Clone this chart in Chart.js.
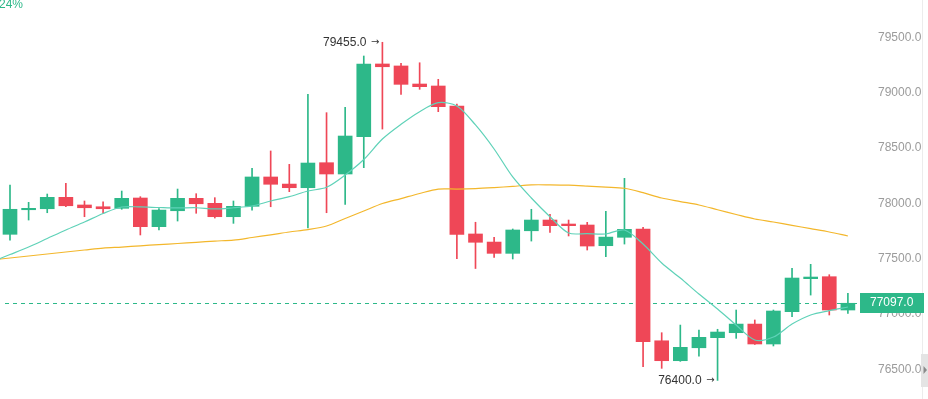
<!DOCTYPE html>
<html>
<head>
<meta charset="utf-8">
<script src="https://cdn.jsdelivr.net/npm/chart.js@4/dist/chart.umd.min.js"></script>
<style>
  html, body { margin: 0; padding: 0; background: #fff; }
  #wrap { width: 928px; height: 399px; }
</style>
</head>
<body>
<div id="wrap"><canvas id="kline" width="928" height="399"></canvas></div>
<script>
// candle data, one entry per bar (left to right)
const opens  = [77720, 77942, 77951, 78054, 77985, 77969, 77955, 78048, 77789, 77933,
                78045, 78000, 77879, 77973, 78238, 78174, 78141, 78367, 78265, 78602,
                79259, 79241, 79078, 79060, 78879, 77723, 77650, 77548, 77752, 77849,
                77813, 77804, 77617, 77693, 77768, 76758, 76578, 76695, 76786, 76831,
                76909, 76729, 77021, 77319, 77337, 77036];
const highs  = [78165, 78009, 78084, 78181, 78021, 78014, 78111, 78060, 77953, 78129,
                78087, 78051, 78021, 78316, 78473, 78352, 78985, 78819, 78867, 79331,
                79455, 79265, 79270, 79120, 78897, 77829, 77693, 77768, 77946, 77901,
                77849, 77828, 77928, 78226, 77783, 76831, 76900, 76855, 76862, 77036,
                76946, 77036, 77413, 77449, 77355, 77187];
const lows   = [77668, 77849, 77915, 77969, 77879, 77910, 77946, 77714, 77759, 77840,
                77910, 77867, 77819, 77939, 77969, 78105, 77777, 77915, 77991, 78322,
                78671, 78985, 79030, 78828, 77499, 77411, 77512, 77497, 77659, 77738,
                77705, 77578, 77518, 77632, 76524, 76509, 76572, 76620, 76400, 76780,
                76725, 76711, 76975, 77171, 76991, 77006];
const closes = [77946, 77955, 78054, 77978, 77960, 77951, 78045, 77789, 77939, 78045,
                77996, 77879, 77973, 78238, 78172, 78141, 78364, 78265, 78608, 79259,
                79234, 79075, 79054, 78873, 77720, 77648, 77548, 77759, 77849, 77798,
                77798, 77614, 77695, 77765, 76749, 76578, 76699, 76789, 76837, 76909,
                76729, 77027, 77325, 77334, 77036, 77097];

// moving averages, first value belongs to the bar just before the visible window
const maFast = [77470, 77537, 77605, 77682, 77759, 77831, 77908, 77967, 77967, 77962, 77958,
                77960, 77949, 77960, 77976, 78021, 78060, 78111, 78145, 78256, 78396,
                78581, 78714, 78828, 78909, 78879, 78708, 78491, 78238, 78048, 77879,
                77732, 77727, 77723, 77759, 77632, 77461, 77325, 77180, 77045, 76900,
                76765, 76792, 76909, 76991, 77030, 77063];
const maSlow = [77488, 77506, 77524, 77542, 77560, 77578, 77596, 77605, 77616, 77627, 77637,
                77648, 77659, 77668, 77691, 77715, 77741, 77763, 77795, 77863, 77930,
                77998, 78043, 78089, 78129, 78129, 78133, 78142, 78153, 78167, 78167,
                78164, 78156, 78147, 78136, 78096, 78048, 78016, 77985, 77942, 77899,
                77858, 77831, 77801, 77771, 77741, 77705];

const yTicks = [76500, 77000, 77500, 78000, 78500, 79000, 79500];
const lastPrice = 77097;
const highMark = { index: 20, value: 79455 };
const lowMark = { index: 38, value: 76400 };
const changeText = '24%';

const UP = '#2db889';
const DOWN = '#ef4757';
const FONT = 'Arial, "Liberation Sans", sans-serif';

const candleColors = closes.map((c, i) => (c >= opens[i] ? UP : DOWN));
const bodyData = closes.map((c, i) => ({ x: i, y: [opens[i], c] }));
const wickData = closes.map((c, i) => ({ x: i, y: [lows[i], highs[i]] }));
const fastData = maFast.map((v, i) => ({ x: i - 1, y: v }));
const slowData = maSlow.map((v, i) => ({ x: i - 1, y: v }));

/**
 * Overlay: last price line + tag, high/low marks, right rail
 */
const overlayPlugin = {
  id: 'overlay',
  beforeDatasetsDraw(chart) {
    const { ctx, chartArea, scales } = chart;
    const y = scales.y.getPixelForValue(lastPrice);
    ctx.save();
    ctx.strokeStyle = UP;
    ctx.lineWidth = 1;
    ctx.setLineDash([4, 4]);
    ctx.beginPath();
    ctx.moveTo(chartArea.left + 5, Math.round(y) + 0.5);
    ctx.lineTo(chartArea.right, Math.round(y) + 0.5);
    ctx.stroke();
    ctx.restore();
  },
  afterDraw(chart) {
    const { ctx, chartArea, scales } = chart;
    const xs = scales.x, ys = scales.y;
    ctx.save();

    // right rail
    ctx.strokeStyle = '#ececec';
    ctx.lineWidth = 1;
    ctx.beginPath();
    ctx.moveTo(922.5, 0);
    ctx.lineTo(922.5, 399);
    ctx.stroke();
    ctx.fillStyle = '#e4e4e4';
    ctx.fillRect(921, 354, 7, 33);
    ctx.fillStyle = '#8a8a8a';
    ctx.beginPath();
    ctx.moveTo(923.5, 366);
    ctx.lineTo(927, 370);
    ctx.lineTo(923.5, 374);
    ctx.closePath();
    ctx.fill();

    // last price tag
    const py = ys.getPixelForValue(lastPrice);
    ctx.fillStyle = UP;
    ctx.fillRect(chartArea.right, Math.round(py) - 10, 64, 20);
    ctx.fillStyle = '#fff';
    ctx.font = '12px ' + FONT;
    ctx.textBaseline = 'middle';
    ctx.textAlign = 'left';
    ctx.fillText(lastPrice.toFixed(1), 870, Math.round(py));

    // high / low marks
    ctx.fillStyle = '#333';
    ctx.textAlign = 'right';
    [highMark, lowMark].forEach(m => {
      const mx = xs.getPixelForValue(m.index);
      const my = ys.getPixelForValue(m.value);
      ctx.font = '10px "DejaVu Sans", sans-serif';
      ctx.fillText('\u2192', mx - 3, my);
      ctx.font = '12px ' + FONT;
      ctx.fillText(m.value.toFixed(1), mx - 16, my);
    });

    // change text, clipped at the top
    ctx.fillStyle = UP;
    ctx.font = '12px ' + FONT;
    ctx.textAlign = 'left';
    ctx.textBaseline = 'alphabetic';
    ctx.fillText(changeText, -1, 8);
    ctx.restore();
  }
};

const ctx = document.getElementById('kline').getContext('2d');
new Chart(ctx, {
  type: 'bar',
  data: {
    datasets: [
      {
        type: 'line',
        label: 'MA fast',
        data: fastData,
        borderColor: '#5fd2b8',
        borderWidth: 1.2,
        pointRadius: 0,
        tension: 0.3,
        order: 0
      },
      {
        type: 'line',
        label: 'MA slow',
        data: slowData,
        borderColor: '#f3b72c',
        borderWidth: 1.2,
        pointRadius: 0,
        tension: 0.3,
        order: 1
      },
      {
        label: 'body',
        data: bodyData,
        backgroundColor: candleColors,
        borderWidth: 0,
        barThickness: 14,
        grouped: false,
        order: 2
      },
      {
        label: 'wick',
        data: wickData,
        backgroundColor: candleColors,
        borderWidth: 0,
        barThickness: 1,
        grouped: false,
        order: 3
      }
    ]
  },
  options: {
    responsive: false,
    animation: false,
    events: [],
    layout: { padding: 0 },
    plugins: {
      legend: { display: false },
      tooltip: { enabled: false }
    },
    scales: {
      x: {
        type: 'linear',
        offset: false,
        min: -0.537,
        max: 45.65,
        display: false,
        grid: { display: false }
      },
      y: {
        position: 'right',
        min: 76232,
        max: 79837,
        grid: { display: false },
        border: { display: false },
        afterBuildTicks: axis => {
          axis.ticks = yTicks.map(v => ({ value: v }));
        },
        afterFit: axis => {
          axis.width = 68;
          axis.paddingTop = 0;
          axis.paddingBottom = 0;
        },
        ticks: {
          padding: 10,
          color: '#9b9b9b',
          font: { size: 12, family: FONT },
          callback: v => Number(v).toFixed(1)
        }
      }
    }
  },
  plugins: [overlayPlugin]
});
</script>
</body>
</html>
